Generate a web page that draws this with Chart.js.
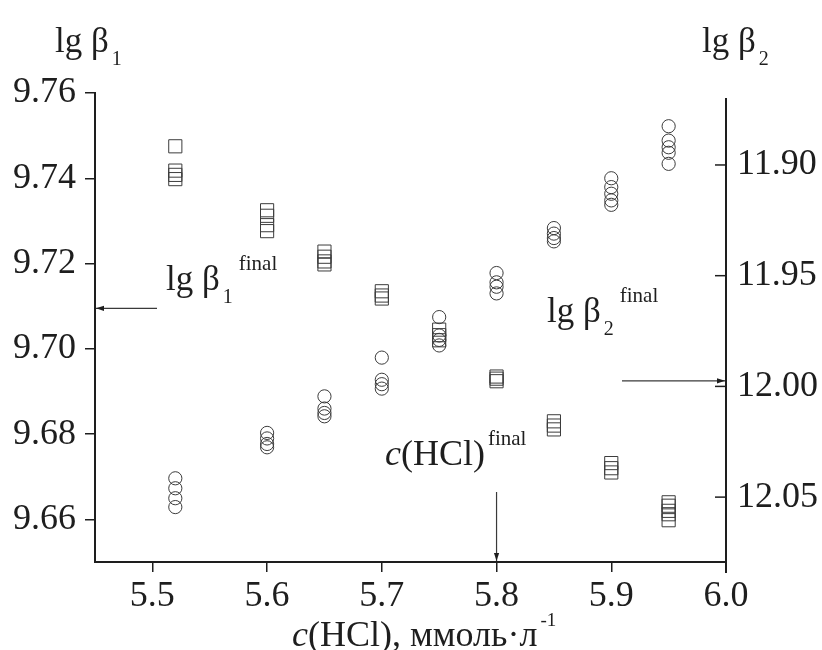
<!DOCTYPE html>
<html>
<head>
<meta charset="utf-8">
<script src="https://cdn.jsdelivr.net/npm/chart.js@4/dist/chart.umd.min.js"></script>
<style>
  html, body { margin: 0; padding: 0; background: #fff; }
  canvas { display: block; }
</style>
</head>
<body>
<canvas id="c" width="822" height="650"></canvas>
<script>
// ---- data ----
const concentrations = [5.52, 5.6, 5.65, 5.7, 5.75, 5.8, 5.85, 5.9, 5.95];
const lgBeta1 = [
  [9.7475, 9.7418, 9.7408, 9.7398],
  [9.7325, 9.7312, 9.7290, 9.7276],
  [9.7228, 9.7216, 9.7205, 9.7198],
  [9.7135, 9.7125, 9.7118],
  [9.7045, 9.7032, 9.7020],
  [9.6935, 9.6930, 9.6924],
  [9.6830, 9.6820, 9.6811],
  [9.6732, 9.6720, 9.6710],
  [9.6640, 9.6632, 9.6620, 9.6612, 9.6598]
];
const lgBeta2 = [
  [12.0415, 12.0460, 12.0505, 12.0545],
  [12.0210, 12.0235, 12.0260, 12.0275],
  [12.0045, 12.0100, 12.0120, 12.0135],
  [11.9870, 11.9970, 11.9990, 12.0010],
  [11.9687, 11.9770, 11.9790, 11.9815],
  [11.9488, 11.9530, 11.9550, 11.9580],
  [11.9285, 11.9310, 11.9330, 11.9345],
  [11.9060, 11.9100, 11.9130, 11.9160, 11.9180],
  [11.8825, 11.8890, 11.8920, 11.8945, 11.8995]
];
const xTicks = [5.5, 5.6, 5.7, 5.8, 5.9, 6.0];
const leftTicks = [9.66, 9.68, 9.70, 9.72, 9.74, 9.76];
const rightTicks = [11.90, 11.95, 12.00, 12.05];
const finalBeta1 = 9.7095;
const finalBeta2 = 11.9975;
const finalHCl = 5.8;

const b1Points = [];
concentrations.forEach((c, i) => lgBeta1[i].forEach(v => b1Points.push({x: c, y: v})));
const b2Points = [];
concentrations.forEach((c, i) => lgBeta2[i].forEach(v => b2Points.push({x: c, y: v})));

const FONT = "'Liberation Serif', 'Times New Roman', serif";
const INK = '#1e1e1e';

function piece(ctx, x, y, text, size, italic) {
  ctx.font = (italic ? 'italic ' : '') + size + 'px ' + FONT;
  ctx.fillText(text, x, y);
  return ctx.measureText(text).width;
}
// main text (array of [text, italic]), optional subscript and superscript
function richLabel(ctx, x, y, mains, sub, sup, mainSize, supSize) {
  ctx.save();
  ctx.fillStyle = INK;
  ctx.textAlign = 'left';
  ctx.textBaseline = 'alphabetic';
  let cx = x;
  mains.forEach(m => { cx += piece(ctx, cx, y, m[0], mainSize || 35, m[1]); });
  let after = cx;
  if (sub) { after = cx + 3 + piece(ctx, cx + 3, y + 13, sub, 20, false); }
  if (sup) { piece(ctx, (sub ? after + 6 : cx + 3), y - 20, sup, supSize || 21, false); }
  ctx.restore();
}
function arrow(ctx, x1, y1, x2, y2) {
  ctx.save();
  ctx.strokeStyle = '#3a3a3a';
  ctx.fillStyle = '#1e1e1e';
  ctx.lineWidth = 1.2;
  ctx.beginPath(); ctx.moveTo(x1, y1); ctx.lineTo(x2, y2); ctx.stroke();
  const a = Math.atan2(y2 - y1, x2 - x1);
  const L = 8, W = 2.6;
  ctx.beginPath();
  ctx.moveTo(x2, y2);
  ctx.lineTo(x2 - L * Math.cos(a) + W * Math.sin(a), y2 - L * Math.sin(a) - W * Math.cos(a));
  ctx.lineTo(x2 - L * Math.cos(a) - W * Math.sin(a), y2 - L * Math.sin(a) + W * Math.cos(a));
  ctx.closePath(); ctx.fill();
  ctx.restore();
}

const decor = {
  id: 'decor',
  beforeDraw(chart) {
    const ctx = chart.ctx;
    ctx.save(); ctx.fillStyle = '#fff'; ctx.fillRect(0, 0, chart.width, chart.height); ctx.restore();
  },
  afterDraw(chart) {
    const ctx = chart.ctx;
    const xs = chart.scales.x, yl = chart.scales.yL, yr = chart.scales.yR;
    const area = chart.chartArea;
    // right axis line and inward ticks
    ctx.save();
    ctx.strokeStyle = INK; ctx.lineWidth = 2;
    ctx.beginPath(); ctx.moveTo(area.right, area.top + 5); ctx.lineTo(area.right, area.bottom + 11); ctx.stroke();
    ctx.lineWidth = 1.5;
    rightTicks.forEach(v => {
      const py = yr.getPixelForValue(v);
      ctx.beginPath(); ctx.moveTo(area.right - 11, py); ctx.lineTo(area.right, py); ctx.stroke();
    });
    ctx.restore();
    // axis names
    richLabel(ctx, 55, 52, [['lg β', false]], '1', null);
    richLabel(ctx, 702, 52, [['lg β', false]], '2', null);
    // x-axis title
    richLabel(ctx, 292, 646, [['c', true], ['(HCl), ммоль·л', false]], null, '-1', 36, 19);
    // final annotations
    richLabel(ctx, 166, 290, [['lg β', false]], '1', 'final');
    richLabel(ctx, 547, 322, [['lg β', false]], '2', 'final');
    richLabel(ctx, 385, 465, [['c', true], ['(HCl)', false]], null, 'final', 36);
    const y1 = yl.getPixelForValue(finalBeta1);
    arrow(ctx, 157, y1, area.left + 1, y1);
    const y2 = yr.getPixelForValue(finalBeta2);
    arrow(ctx, 622, y2, area.right - 1, y2);
    const x3 = xs.getPixelForValue(finalHCl);
    arrow(ctx, x3, 492, x3, area.bottom - 1);
  }
};

const tickFont = { family: FONT, size: 36 };

new Chart(document.getElementById('c'), {
  type: 'scatter',
  data: {
    datasets: [
      { label: 'lg β1', data: b1Points, yAxisID: 'yL', pointStyle: 'rect', pointRadius: 9.3,
        borderColor: '#3c3c3c', backgroundColor: 'rgba(255,255,255,0)', borderWidth: 1 },
      { label: 'lg β2', data: b2Points, yAxisID: 'yR', pointStyle: 'circle', pointRadius: 6.6,
        borderColor: '#3c3c3c', backgroundColor: 'rgba(255,255,255,0)', borderWidth: 1 }
    ]
  },
  options: {
    responsive: false,
    animation: false,
    layout: { padding: { top: 93, left: 0, right: 0, bottom: 0 } },
    plugins: { legend: { display: false }, tooltip: { enabled: false } },
    scales: {
      x: {
        type: 'linear', position: 'bottom', min: 5.45, max: 6.0,
        afterBuildTicks: s => { s.ticks = xTicks.map(v => ({ value: v })); },
        afterFit: s => { s.height = 88; },
        grid: { drawOnChartArea: false, drawTicks: true, tickLength: 10, color: INK, lineWidth: 1.5 },
        border: { display: true, color: INK, width: 2 },
        ticks: { font: tickFont, color: INK, padding: 3, maxRotation: 0, autoSkip: false,
                 callback: v => Number(v).toFixed(1) }
      },
      yL: {
        type: 'linear', position: 'left', min: 9.65, max: 9.76,
        afterBuildTicks: s => { s.ticks = leftTicks.map(v => ({ value: v })); },
        afterFit: s => { s.width = 95; },
        grid: { drawOnChartArea: false, drawTicks: true, tickLength: 10, color: INK, lineWidth: 1.5 },
        border: { display: true, color: INK, width: 2 },
        ticks: { font: tickFont, color: INK, padding: 9, autoSkip: false,
                 callback: v => Number(v).toFixed(2) }
      },
      yR: {
        type: 'linear', position: 'right', reverse: true, min: 11.8675, max: 12.0793,
        afterBuildTicks: s => { s.ticks = rightTicks.map(v => ({ value: v })); },
        afterFit: s => { s.width = 96; },
        grid: { display: false, drawOnChartArea: false, drawTicks: false },
        border: { display: false },
        ticks: { font: tickFont, color: INK, padding: 11, autoSkip: false,
                 callback: v => Number(v).toFixed(2) }
      }
    }
  },
  plugins: [decor]
});
</script>
</body>
</html>
